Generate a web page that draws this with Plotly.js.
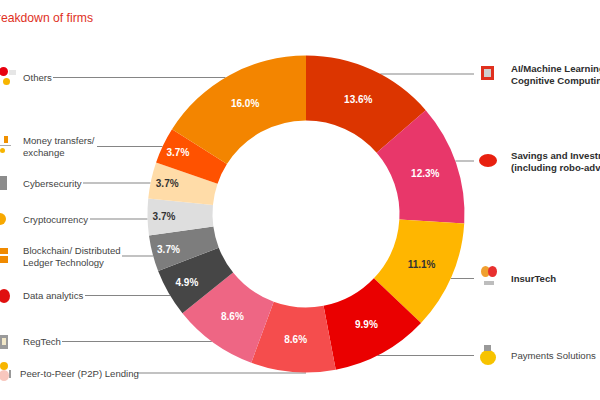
<!DOCTYPE html>
<html>
<head>
<meta charset="utf-8">
<script src="https://cdn.plot.ly/plotly-3.0.1.min.js"></script>
<style>html,body{margin:0;padding:0;background:#fff;}#chart{width:600px;height:400px;}</style>
</head>
<body>
<div id="chart"></div>
<script>
// ---- data ----
const categories = ['AI/Machine Learning/ Cognitive Computing', 'Savings and Investments (including robo-advisors)', 'InsurTech', 'Payments Solutions', 'Peer-to-Peer (P2P) Lending', 'RegTech', 'Data analytics', 'Blockchain/ Distributed Ledger Technology', 'Cryptocurrency', 'Cybersecurity', 'Money transfers/ exchange', 'Others'];
const shares = [13.6, 12.3, 11.1, 9.9, 8.6, 8.6, 4.9, 3.7, 3.7, 3.7, 3.7, 16.0];
const calloutText = ['AI/Machine Learning/<br>Cognitive Computing', 'Savings and Investments<br>(including robo-advisors)', 'InsurTech', 'Payments Solutions', 'Peer-to-Peer (P2P) Lending', 'RegTech', 'Data analytics', 'Blockchain/ Distributed<br>Ledger Technology', 'Cryptocurrency', 'Cybersecurity', 'Money transfers/<br>exchange', 'Others'];
const titleText = 'Breakdown of firms';

// ---- styles / layout ----
const FONT = 'Liberation Sans, Arial, Helvetica, sans-serif';
const colors = ['#DC3500', '#E8376A', '#FFB600', '#EA0000', '#F54D4D', '#EE6684', '#464646', '#7D7D7D', '#DEDEDE', '#FFDCA8', '#FF5200', '#F38500'];
const textColors = ['#fff', '#fff', '#333', '#fff', '#fff', '#fff', '#fff', '#fff', '#333', '#333', '#fff', '#fff'];
// callout layout (pixels): side, label center y, label x, line outer x
const callSide = ['R', 'R', 'R', 'R', 'L', 'L', 'L', 'L', 'L', 'L', 'L', 'L'];
const callY = [74, 161, 278.5, 355.5, 373, 341.5, 295.5, 256, 219, 183, 146.5, 77.5];
const callX = [509, 509, 509, 509, 18, 21, 21, 21, 21, 21, 21, 21];
const lineX = [474, 474, 474, 474, 137, 62, 85, 122, 90, 83, 97, 53];
const boldLabel = [true, true, true, false, false, false, false, false, false, false, false, false];

const W = 600, H = 400;
const cx = 306, cy = 214, R = 158.5;
const px = x => x / W, py = y => 1 - y / H;

const shapes = [];
const annotations = [];
for (let i = 0; i < categories.length; i++) {
  const y = callY[i];
  const dy = Math.abs(y - cy);
  const dx = dy < R ? Math.sqrt(R * R - dy * dy) : 0;
  const edge = callSide[i] === 'L' ? cx - dx : cx + dx;
  shapes.push({type: 'line', xref: 'paper', yref: 'paper', x0: px(lineX[i]), x1: px(edge), y0: py(y), y1: py(y),
    line: {color: '#858585', width: 1}, layer: 'below'});
  annotations.push({xref: 'paper', yref: 'paper', x: px(callX[i]), y: py(y), xanchor: 'left', yanchor: 'middle',
    align: 'left', showarrow: false, text: boldLabel[i] ? '<b>' + calloutText[i] + '</b>' : calloutText[i],
    font: {family: FONT, size: 9.6, color: boldLabel[i] ? '#2d2d2d' : '#444'}});
}

// small icon-like decorations
const icons = [
  // Others
  {t: 'circle', x0: -1, x1: 8, y0: 67, y1: 76, c: '#E8000F'},
  {t: 'circle', x0: 3, x1: 10, y0: 78, y1: 85, c: '#F7B500'},
  {t: 'rect', x0: 9, x1: 16, y0: 70, y1: 75, c: '#e6e6e6'},
  // Money transfers
  {t: 'rect', x0: 4, x1: 8, y0: 136, y1: 143, c: '#F09000'},
  {t: 'rect', x0: 0, x1: 11, y0: 145, y1: 146, c: '#aaa'},
  {t: 'circle', x0: 0, x1: 5, y0: 148, y1: 153, c: '#F7B500'},
  // Cybersecurity
  {t: 'rect', x0: 0, x1: 7, y0: 176, y1: 190, c: '#8c8c8c'},
  // Crypto
  {t: 'circle', x0: -6, x1: 6, y0: 213, y1: 225, c: '#F7A800'},
  // Blockchain
  {t: 'rect', x0: -2, x1: 8, y0: 248, y1: 254, c: '#F08A00'},
  {t: 'rect', x0: -2, x1: 8, y0: 256, y1: 263, c: '#F08A00'},
  // Data analytics
  {t: 'circle', x0: -2, x1: 10, y0: 289, y1: 303, c: '#E0100F'},
  // RegTech
  {t: 'rect', x0: 0, x1: 8, y0: 335, y1: 349, c: '#9a9a9a'},
  {t: 'rect', x0: 2, x1: 6, y0: 338, y1: 345, c: '#f2e8c8'},
  // P2P
  {t: 'circle', x0: 0, x1: 8, y0: 362, y1: 370, c: '#F7B500'},
  {t: 'circle', x0: -1, x1: 9, y0: 370, y1: 381, c: '#F8C7BE'},
  {t: 'rect', x0: 9, x1: 11, y0: 370, y1: 378, c: '#999'},
  // AI chip
  {t: 'rect', x0: 481, x1: 494, y0: 66, y1: 80, c: '#E0301E'},
  {t: 'rect', x0: 484, x1: 491, y0: 69, y1: 77, c: '#cfcfcf'},
  // Savings pig
  {t: 'circle', x0: 479, x1: 497, y0: 154, y1: 167, c: '#E8200F'},
  // InsurTech
  {t: 'circle', x0: 481, x1: 490, y0: 266, y1: 277, c: '#F0A030'},
  {t: 'circle', x0: 488, x1: 497, y0: 266, y1: 277, c: '#E8302F'},
  {t: 'rect', x0: 484, x1: 494, y0: 281, y1: 285, c: '#bdbdbd'},
  // Payments bag
  {t: 'circle', x0: 480, x1: 496, y0: 350, y1: 365, c: '#F7C300'},
  {t: 'rect', x0: 484, x1: 491, y0: 345, y1: 351, c: '#999'}
];
icons.forEach(ic => shapes.push({type: ic.t, xref: 'paper', yref: 'paper', x0: px(ic.x0), x1: px(ic.x1), y0: py(ic.y1), y1: py(ic.y0),
  fillcolor: ic.c, line: {width: 0}, layer: 'above'}));

const trace = {
  type: 'pie',
  labels: categories,
  values: shares,
  hole: 0.59,
  sort: false,
  direction: 'clockwise',
  rotation: 0,
  domain: {x: [px(cx - R), px(cx + R)], y: [py(cy + R), py(cy - R)]},
  marker: {colors: colors, line: {width: 0}},
  texttemplate: '<b>%{value:.1f}%</b>',
  textposition: 'inside',
  insidetextorientation: 'horizontal',
  textfont: {family: FONT, size: 10, color: textColors},
  hoverinfo: 'label+value',
  showlegend: false
};

const layout = {
  width: W, height: H,
  margin: {l: 0, r: 0, t: 0, b: 0},
  paper_bgcolor: '#fff',
  showlegend: false,
  title: {text: titleText, xref: 'paper', x: px(93), xanchor: 'right', yref: 'container', y: py(17.5), yanchor: 'middle',
    font: {family: FONT, size: 12.2, color: '#E0301E'}},
  shapes: shapes,
  annotations: annotations
};

Plotly.newPlot('chart', [trace], layout, {displayModeBar: false, staticPlot: true});
</script>
</body>
</html>
